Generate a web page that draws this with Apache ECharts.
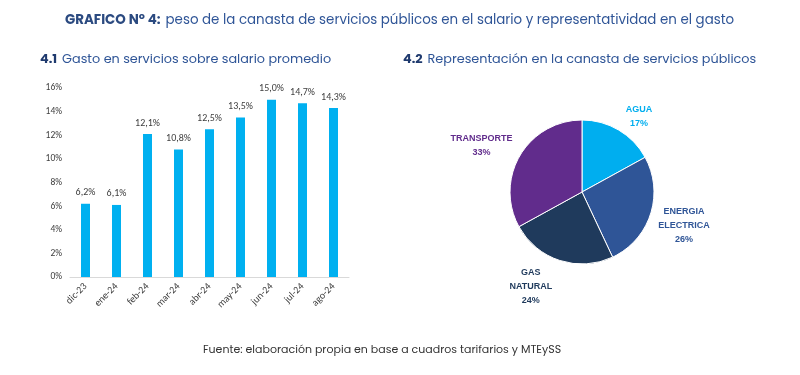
<!DOCTYPE html>
<html>
<head>
<meta charset="utf-8">
<script src="https://cdn.jsdelivr.net/npm/echarts@6/dist/echarts.min.js"></script>
<style>
  html, body { margin: 0; padding: 0; background: #fff; }
  #chart { width: 800px; height: 375px; }
</style>
</head>
<body>
<div id="chart"></div>
<script>
  // datos del gráfico 4.1
  var meses = ['dic-23', 'ene-24', 'feb-24', 'mar-24', 'abr-24', 'may-24', 'jun-24', 'jul-24', 'ago-24'];
  var gastoSalario = [6.2, 6.1, 12.1, 10.8, 12.5, 13.5, 15.0, 14.7, 14.3];
  var ticksY = [0, 2, 4, 6, 8, 10, 12, 14, 16];

  // datos del gráfico 4.2
  var rubros = ['AGUA', 'ENERGIA\nELECTRICA', 'GAS\nNATURAL', 'TRANSPORTE'];
  var participacion = [17, 26, 24, 33];
  var coloresRubros = ['#00AEEF', '#2F5597', '#1F3A5C', '#612C8C'];
  // ajuste fino de las etiquetas de la torta (px)
  var ajusteEtiquetas = [[4, 14], [3, 1], [-19, -4], [-11, 6]];

  var fuente = 'Poppins, "Open Sans", sans-serif';
  var chart = echarts.init(document.getElementById('chart'));

  chart.setOption({
    animation: false,
    backgroundColor: '#fff',
    title: [
      {
        text: '{b|GRAFICO Nº 4:} {n|peso de la canasta de servicios públicos en el salario y representatividad en el gasto}',
        left: 65, top: 12, padding: 0,
        textStyle: {
          rich: {
            b: { fontFamily: fuente, fontWeight: 'bold', fontSize: 13.4, color: '#2B4A80' },
            n: { fontFamily: fuente, fontWeight: 'normal', fontSize: 13.4, color: '#2F5597' }
          }
        }
      },
      {
        text: '{b|4.1} {n|Gasto en servicios sobre salario promedio}',
        left: 40, top: 51, padding: 0,
        textStyle: {
          rich: {
            b: { fontFamily: fuente, fontWeight: 'bold', fontSize: 12.8, color: '#1F3A6E' },
            n: { fontFamily: fuente, fontWeight: 'normal', fontSize: 12.8, color: '#2F5597' }
          }
        }
      },
      {
        text: '{b|4.2} {n|Representación en la canasta de servicios públicos}',
        left: 403, top: 51, padding: 0,
        textStyle: {
          rich: {
            b: { fontFamily: fuente, fontWeight: 'bold', fontSize: 12.8, color: '#1F3A6E' },
            n: { fontFamily: fuente, fontWeight: 'normal', fontSize: 12.8, color: '#2F5597' }
          }
        }
      },
      {
        text: 'Fuente: elaboración propia en base a cuadros tarifarios y MTEySS',
        left: 203, top: 345, padding: 0,
        textStyle: { fontFamily: fuente, fontWeight: 'normal', fontSize: 11, color: '#333333' }
      }
    ],
    grid: { left: 70, right: 451, top: 88, bottom: 98 },
    xAxis: {
      type: 'category',
      data: meses,
      axisLine: { lineStyle: { color: '#D9D9D9', width: 1 } },
      axisTick: { show: false },
      axisLabel: {
        rotate: 45, interval: 0, margin: 8,
        fontFamily: 'Carlito, "Liberation Sans", sans-serif', fontSize: 10, color: '#404040'
      }
    },
    yAxis: {
      type: 'value',
      min: 0, max: 16, interval: 2,
      axisLine: { show: false },
      axisTick: { show: false },
      splitLine: { show: false },
      axisLabel: {
        margin: 8,
        fontFamily: 'Carlito, "Liberation Sans", sans-serif', fontSize: 9.5, color: '#404040',
        formatter: function (v) { return ticksY.indexOf(v) >= 0 ? v + '%' : ''; }
      }
    },
    series: [
      {
        type: 'bar',
        data: gastoSalario,
        barWidth: 9,
        itemStyle: { color: '#00B0F0' },
        label: {
          show: true, position: 'top', distance: 6,
          fontFamily: 'Carlito, "Liberation Sans", sans-serif', fontSize: 10, color: '#404040',
          formatter: function (p) { return p.value.toFixed(1).replace('.', ',') + '%'; }
        }
      },
      {
        type: 'pie',
        center: [582, 192],
        radius: 72,
        startAngle: 90,
        clockwise: true,
        avoidLabelOverlap: false,
        data: rubros.map(function (n, i) {
          return {
            name: n, value: participacion[i],
            itemStyle: { color: coloresRubros[i] },
            label: { color: coloresRubros[i] }
          };
        }),
        itemStyle: { borderColor: '#fff', borderWidth: 1 },
        label: {
          show: true, position: 'outside', distanceToLabelLine: 0,
          fontFamily: '"Liberation Sans", sans-serif', fontWeight: 'bold', fontSize: 9,
          lineHeight: 14,
          formatter: function (p) { return p.name + '\n' + p.value + '%'; }
        },
        labelLine: { show: false, length: 32, length2: 0 },
        labelLayout: function (p) {
          var a = ajusteEtiquetas[p.dataIndex] || [0, 0];
          return { align: 'center', verticalAlign: 'middle', dx: a[0], dy: a[1] };
        }
      }
    ]
  });
</script>
</body>
</html>
